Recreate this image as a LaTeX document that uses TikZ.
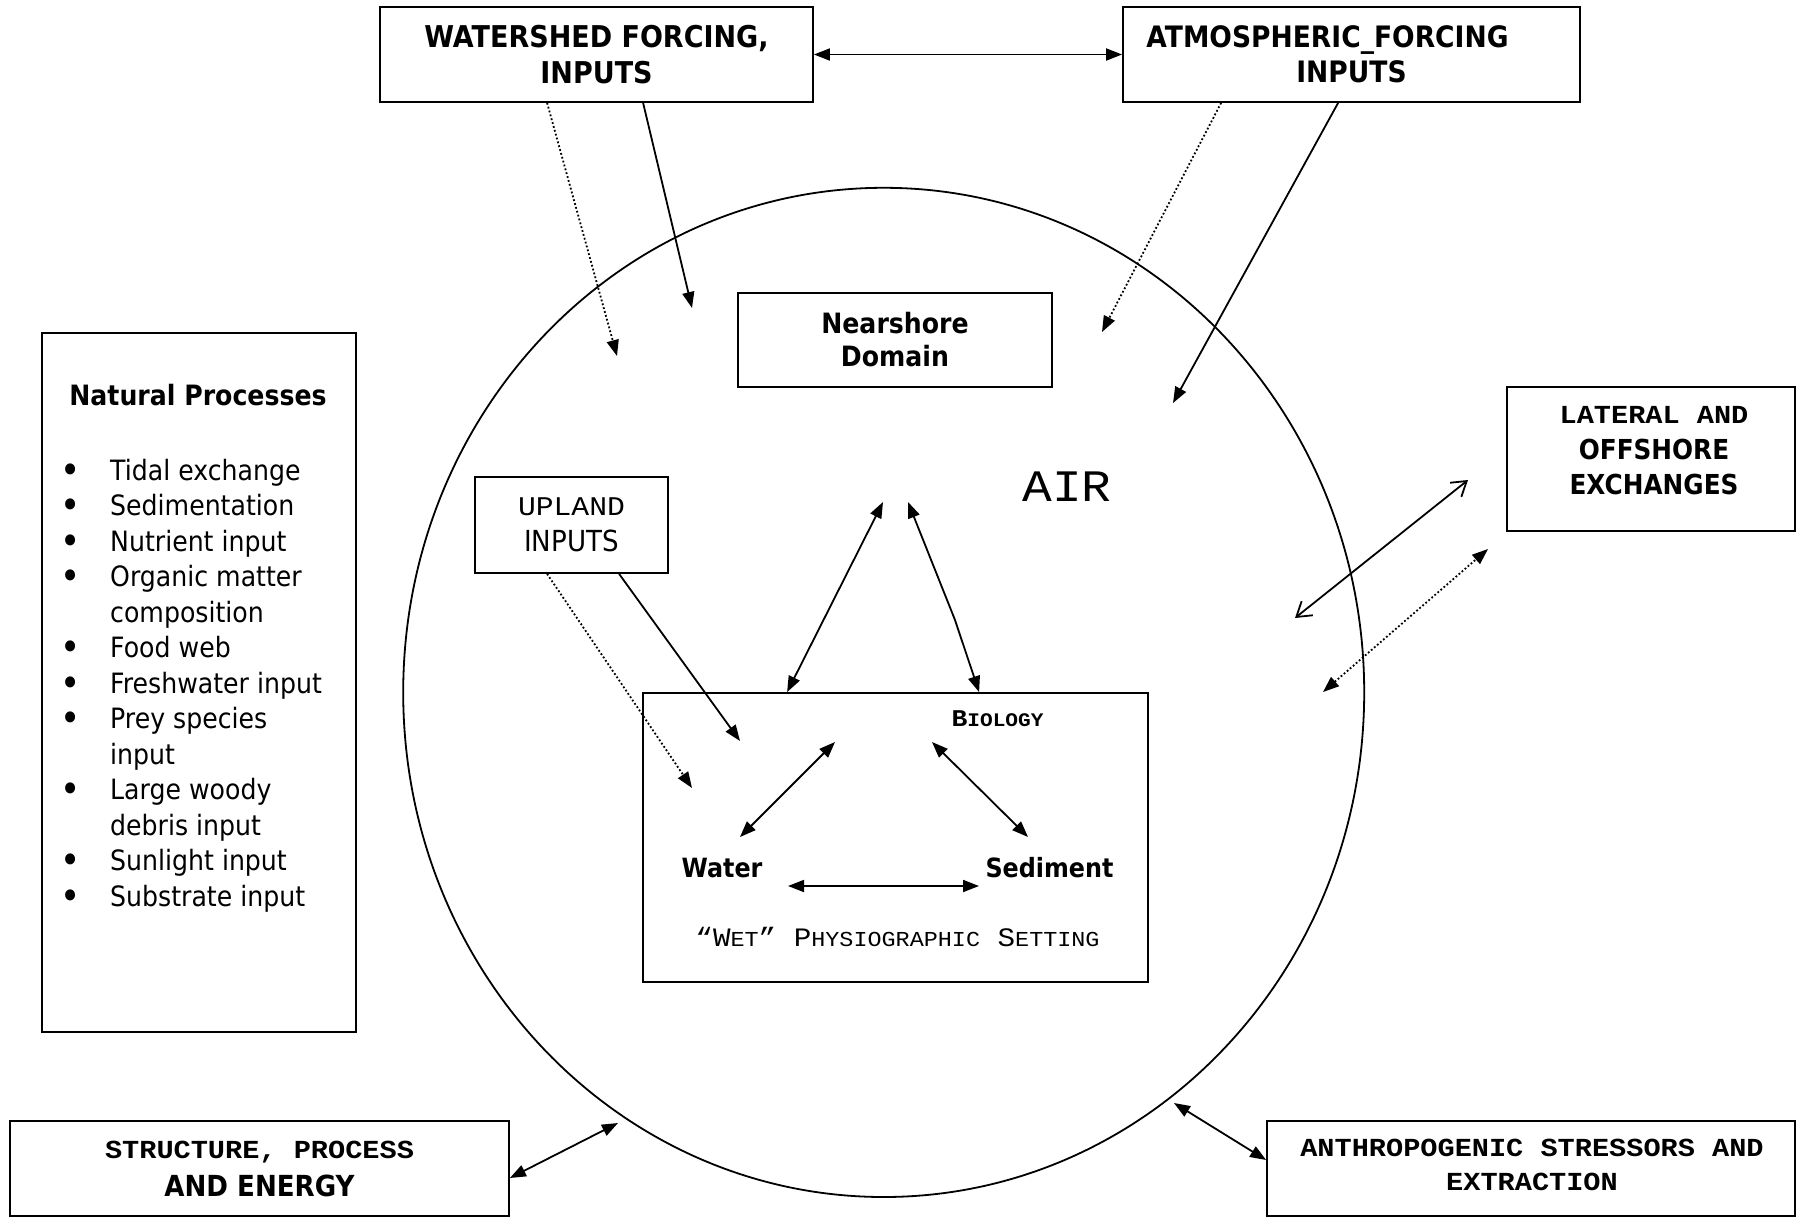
\documentclass[tikz,border=0pt]{standalone}
\usepackage{fontspec}
\setmainfont{DejaVu Sans}[FakeStretch=0.9]
\newfontfamily\cour{Liberation Mono}[FakeStretch=1.1]
\usetikzlibrary{arrows.meta}
\newcommand\fsz[2]{\fontsize{#1}{#2}\selectfont}
\begin{document}
\begin{tikzpicture}[x=1pt,y=-1pt,
  box/.style={draw,line width=1.8pt,inner sep=0pt,align=center},
  lbl/.style={inner sep=0pt,align=center},
  fat/.style={line width=1.8pt},
  both/.style={fat,{Triangle[length=16pt,width=12pt]}-{Triangle[length=16pt,width=12pt]}},
  tohead/.style={fat,-{Triangle[length=16pt,width=12pt]}},
  dots/.style={dash pattern=on 1.8pt off 2.2pt},
  barbs/.style={fat,{Straight Barb[length=14pt,width=18pt]}-{Straight Barb[length=14pt,width=18pt]}}]
\useasboundingbox (0,0) rectangle (1796,1217);

% nearshore domain outline
\draw[line width=1.8pt] (883.7,692.4) ellipse [x radius=480.5, y radius=504.6];

% forcing boxes along the top
\node[box,minimum width=433,minimum height=95,font=\bfseries\fsz{30}{35.5}] (ws) at (596.5,54.5) {WATERSHED FORCING,\\INPUTS};
\node[box,minimum width=457,minimum height=95,font=\bfseries\fsz{29.5}{35.5}] (atm) at (1351.5,54.5) {ATMOSPHERIC\_FORCING\rule{48pt}{0pt}\\INPUTS};

\node[box,minimum width=314,minimum height=94,font=\bfseries\fsz{28}{33}] (near) at (895,340) {Nearshore\\Domain};

% list of natural processes
\node[box,minimum width=314,minimum height=699] (np) at (199,682.5) {};
\node[lbl,font=\bfseries\fsz{28}{28}] (nptitle) at (198,395) {Natural Processes};
\foreach \mk/\txt [count=\i from 0] in {1/Tidal exchange,1/Sedimentation,1/Nutrient input,1/Organic matter,0/composition,1/Food web,1/Freshwater input,1/Prey species,0/input,1/Large woody,0/debris input,1/Sunlight input,1/Substrate input}{
  \node[lbl,anchor=base west,font=\fsz{28}{28}] (np\i) at (110,480+35.5*\i) {\txt};
  \ifnum\mk=1 \node[lbl,anchor=base,font=\fsz{38}{38}] (bul\i) at (71,483+35.5*\i) {\textbullet};\fi
}

\node[box,minimum width=193,minimum height=96,font=\fsz{29}{35.5}] (up) at (571.5,525) {{\cour\fsz{27}{35.5}UPLAND}\\INPUTS};

\node[box,minimum width=288,minimum height=144] (lat) at (1651,459) {};
\node[lbl,font=\bfseries\fsz{27.5}{35.5}] (latt) at (1654,451) {{\cour\fsz{26}{35.5}LATERAL AND}\\OFFSHORE\\EXCHANGES};

\node[box,minimum width=499,minimum height=95,font=\bfseries\fsz{29}{38}] (sp) at (259.5,1168.5) {{\cour\fsz{26}{38}STRUCTURE, PROCESS}\\AND ENERGY};
\node[box,minimum width=528,minimum height=95] (anth) at (1531,1168.5) {};
\node[lbl,font=\cour\bfseries\fsz{26}{33.5}] (antht) at (1532,1165) {ANTHROPOGENIC STRESSORS AND\\EXTRACTION};

% the wet physiographic setting
\node[box,minimum width=505,minimum height=289] (wet) at (895.5,837.5) {};
\node[lbl,font=\cour\bfseries] (bio) at (997.5,719) {{\fsz{24}{24}B}{\fsz{19.2}{24}IOLOGY}};
\node[lbl,font=\bfseries\fsz{26.5}{26.5}] (water) at (722,868) {Water};
\node[lbl,font=\bfseries\fsz{26.5}{26.5}] (sed) at (1049.5,868) {Sediment};
\node[lbl,font=\cour] (wett) at (897.5,937) {{\fsz{26.6}{26.6}“W}{\fsz{21.3}{26.6}ET}{\fsz{26.6}{26.6}” P}{\fsz{21.3}{26.6}HYSIOGRAPHIC}{\fsz{26.6}{26.6} S}{\fsz{21.3}{26.6}ETTING}};

\node[lbl,font=\cour\fsz{45}{45}] (air) at (1067,487) {AIR};

% free ends of connectors
\coordinate (wsdotE) at (617,356);
\coordinate (wssolE) at (692,308);
\coordinate (atdotE) at (1102,332);
\coordinate (atsolE) at (1173,403);
\coordinate (updotE) at (692,788);
\coordinate (upsolE) at (740,741);
\coordinate (airL) at (883,502);
\coordinate (airR) at (908,502);
\coordinate (bend) at (955,620);
\coordinate (wa1) at (740,837);
\coordinate (wa2) at (835,742);
\coordinate (se1) at (932,742);
\coordinate (se2) at (1028,837);
\coordinate (ho1) at (788,886);
\coordinate (ho2) at (979,886);
\coordinate (latA) at (1295,618);
\coordinate (latB) at (1468,480);
\coordinate (latC) at (1323,692);
\coordinate (latD) at (1488,549);
\coordinate (spE) at (618,1123);
\coordinate (anE) at (1174,1103);

% connectors
\draw[both] (ws.east) -- (atm.west);
\draw[tohead,dots] ([xshift=168pt]ws.south west) -- (wsdotE);
\draw[tohead] ([xshift=264pt]ws.south west) -- (wssolE);
\draw[tohead,dots] ([xshift=99pt]atm.south west) -- (atdotE);
\draw[tohead] ([xshift=216pt]atm.south west) -- (atsolE);
\draw[tohead,dots] ([xshift=73pt]up.south west) -- (updotE);
\draw[tohead] ([xshift=145pt]up.south west) -- (upsolE);
\draw[both] ([xshift=145pt]wet.north west) -- (airL);
\draw[both] (airR) -- (bend) -- ([xshift=337pt]wet.north west);
\draw[both] (wa1) -- (wa2);
\draw[both] (se1) -- (se2);
\draw[both] (ho1) -- (ho2);
\draw[barbs] (latA) -- (latB);
\draw[both,dots] (latC) -- (latD);
\draw[both] ([yshift=-9.5pt]sp.east) -- (spE);
\draw[both] ([yshift=8.5pt]anth.west) -- (anE);
\end{tikzpicture}
\end{document}
